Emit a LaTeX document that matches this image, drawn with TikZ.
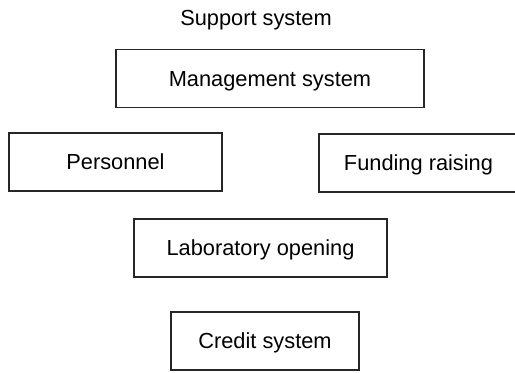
\documentclass[tikz,border=0pt]{standalone}
\usepackage{fontspec}
\setmainfont{Liberation Sans}
\begin{document}
\begin{tikzpicture}
    [
        x=0.5pt, y=-0.5pt,
        every node/.style={font=\fontsize{10.9}{13}\selectfont, inner sep=0pt},
        item/.style={draw=black!85, line width=0.75pt, minimum height=29pt, text depth=0pt},
    ]
  \useasboundingbox (0,0) rectangle (515,372);
  % Title
  \node [anchor=base] (S) at (256,25) {Support system};

  % Boxes
  \node [item, minimum width=154pt] (M) at (270,78.5) {Management system};
  \node [item, minimum width=106.5pt] (P) at (115.5,162) {Personnel};
  \node [item, minimum width=99.5pt] (F) at (418.5,163) {Funding raising};
  \node [item, minimum width=126.5pt] (L) at (260.5,248) {Laboratory opening};
  \node [item, minimum width=94pt] (C) at (265,341) {Credit system};
\end{tikzpicture}
\end{document}
